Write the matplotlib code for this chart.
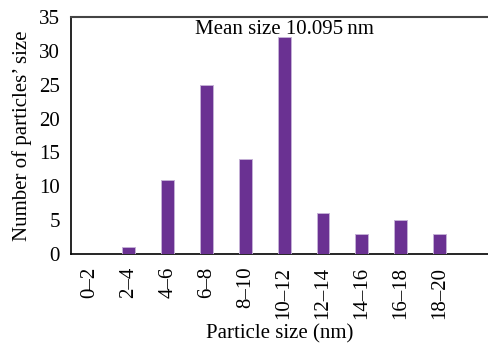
import matplotlib
matplotlib.use("Agg")
from matplotlib import pyplot as plt

# przedzialy rozmiaru i liczebnosci
kategorie = ['0–2', '2–4', '4–6', '6–8', '8–10', '10–12', '12–14', '14–16', '16–18', '18–20']
liczebnosc = [0, 1, 11, 25, 14, 32, 6, 3, 5, 3]

plt.rcParams['font.family'] = ['Liberation Serif', 'DejaVu Serif']

fig = plt.figure(figsize=(4.88, 3.44), dpi=100)
ax = fig.add_axes([0.1455, 0.2616, 0.8545, 0.689])

pozycje = list(range(len(kategorie)))
ax.bar(pozycje, liczebnosc, width=0.33, color='#6a3192',
       edgecolor='#c4b0d6', linewidth=0.7, zorder=3)

ax.set_xlim(-0.49, 10.25)
ax.set_ylim(0, 35)
ax.set_yticks(range(0, 36, 5))
ax.set_xticks(pozycje)
ax.set_xticklabels(kategorie, rotation=90, fontsize=15)
ax.tick_params(axis='y', labelsize=15, length=0, pad=8)
ax.tick_params(axis='x', length=0, pad=9)

ax.spines['right'].set_visible(False)
ax.spines['top'].set_color('#444444')
ax.spines['top'].set_linewidth(1.5)
ax.spines['left'].set_linewidth(1.2)
ax.spines['bottom'].set_linewidth(1.2)

ax.set_xlabel('Particle size (nm)', fontsize=15, labelpad=4)
ax.set_ylabel('Number of particles’ size', fontsize=15, labelpad=5)

ax.text(5.0, 33.2, 'Mean size 10.095\u2009nm', ha='center', va='center',
        fontsize=15, family=['Liberation Serif', 'DejaVu Serif'])

fig.savefig('out.png', dpi=100)
